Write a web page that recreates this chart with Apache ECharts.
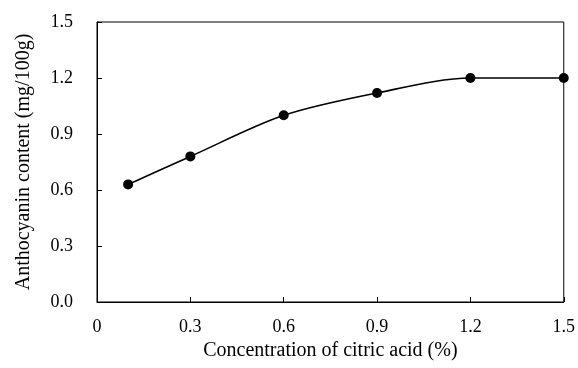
<!DOCTYPE html>
<html>
<head>
<meta charset="utf-8">
<script src="https://cdn.jsdelivr.net/npm/echarts@6/dist/echarts.min.js"></script>
<style>
  html, body { margin: 0; padding: 0; background: #fff; }
  #chart { width: 578px; height: 368px; }
</style>
</head>
<body>
<div id="chart"></div>
<script>
// citric acid concentration (%) and anthocyanin content (mg/100g)
var concentration = [0.1, 0.3, 0.6, 0.9, 1.2, 1.5];
var anthocyanin = [0.63, 0.78, 1.00, 1.12, 1.20, 1.20];
var xTicks = ['0', '0.3', '0.6', '0.9', '1.2', '1.5'];
var yTicks = ['0.0', '0.3', '0.6', '0.9', '1.2', '1.5'];

var myChart = echarts.init(document.getElementById('chart'));
var font = '"Liberation Serif", "Times New Roman", serif';

var option = {
  backgroundColor: '#fff',
  animation: false,
  grid: {
    left: 97, right: 14, top: 22, bottom: 66,
    show: true, borderColor: '#000', borderWidth: 1
  },
  xAxis: {
    type: 'value',
    min: 0, max: 1.5, interval: 0.3,
    name: 'Concentration of citric acid (%)',
    nameLocation: 'middle',
    nameGap: 35,
    nameTextStyle: { fontFamily: font, fontSize: 20, color: '#000' },
    axisLine: { lineStyle: { color: '#000', width: 1 } },
    axisTick: { inside: true, length: 5, lineStyle: { color: '#000' } },
    splitLine: { show: false },
    axisLabel: {
      margin: 16,
      fontFamily: font, fontSize: 18, color: '#000',
      formatter: function(v) {
        var i = Math.round(v / 0.3);
        return xTicks[i];
      }
    }
  },
  yAxis: {
    type: 'value',
    min: 0, max: 1.5, interval: 0.3,
    name: 'Anthocyanin content (mg/100g)',
    nameLocation: 'middle',
    nameGap: 63,
    nameTextStyle: { fontFamily: font, fontSize: 20, color: '#000' },
    axisLine: { show: true, lineStyle: { color: '#000', width: 1 } },
    axisTick: { show: true, inside: true, length: 5, lineStyle: { color: '#000' } },
    splitLine: { show: false },
    axisLabel: {
      margin: 24,
      fontFamily: font, fontSize: 18, color: '#000',
      formatter: function(v) {
        var i = Math.round(v / 0.3);
        return yTicks[i];
      }
    }
  },
  series: [{
    type: 'line',
    smooth: 0.3,
    data: concentration.map(function(c, i) { return [c, anthocyanin[i]]; }),
    symbol: 'circle',
    symbolSize: 10,
    itemStyle: { color: '#000' },
    lineStyle: { color: '#000', width: 1.6 }
  }]
};

myChart.setOption(option, true);
</script>
</body>
</html>
